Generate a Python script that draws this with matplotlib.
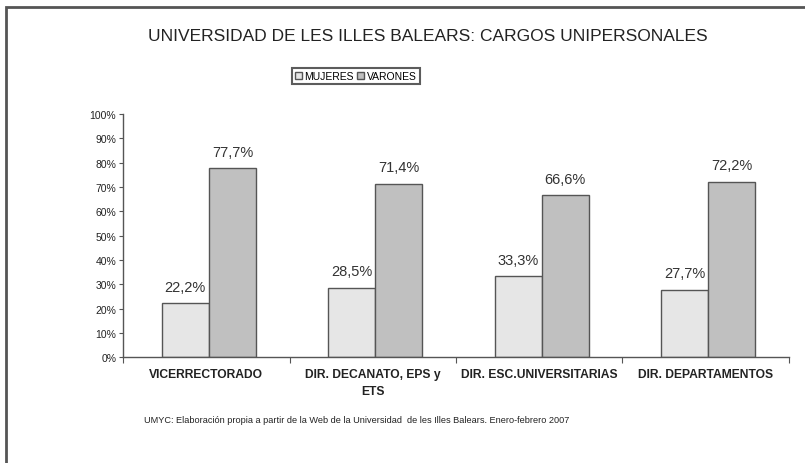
import numpy as np
import matplotlib.pyplot as plt
from matplotlib.patches import Rectangle
from matplotlib.ticker import FuncFormatter

plt.rcParams['font.family'] = ['Liberation Sans', 'DejaVu Sans']

categories = ["VICERRECTORADO", "DIR. DECANATO, EPS y\nETS", "DIR. ESC.UNIVERSITARIAS", "DIR. DEPARTAMENTOS"]
mujeres = [22.2, 28.5, 33.3, 27.7]
varones = [77.7, 71.4, 66.6, 72.2]
mujeres_lbl = ["22,2%", "28,5%", "33,3%", "27,7%"]
varones_lbl = ["77,7%", "71,4%", "66,6%", "72,2%"]

fig = plt.figure(figsize=(8.05, 4.64), dpi=100)
ax = fig.add_axes([0.153, 0.228, 0.827, 0.524])

x = np.arange(len(categories))
w = 0.283
b1 = ax.bar(x - w/2 + 0.015, mujeres, w, color='#e6e6e6', edgecolor='#555555', linewidth=1.0, label='MUJERES')
b2 = ax.bar(x + w/2 + 0.015, varones, w, color='#c0c0c0', edgecolor='#555555', linewidth=1.0, label='VARONES')

for rect, t in zip(b1, mujeres_lbl):
    ax.text(rect.get_x() + rect.get_width()/2, rect.get_height() + 4, t,
            ha='center', va='bottom', fontsize=10.5, color='#333333')
for rect, t in zip(b2, varones_lbl):
    ax.text(rect.get_x() + rect.get_width()/2, rect.get_height() + 4, t,
            ha='center', va='bottom', fontsize=10.5, color='#333333')

ax.set_xlim(-0.5, len(categories) - 0.5)
ax.set_ylim(0, 100)
ax.set_yticks(np.arange(0, 101, 10))
ax.yaxis.set_major_formatter(FuncFormatter(lambda v, p: f"{int(v)}%"))
ax.tick_params(axis='y', labelsize=7.5, length=3, color='#555555', labelcolor='#222222', pad=2)

ax.set_xticks(np.arange(-0.5, len(categories), 1.0))
ax.set_xticklabels([])
ax.set_xticks(x, minor=True)
ax.set_xticklabels(categories, minor=True, fontsize=8.7, fontweight='bold', color='#222222', linespacing=1.5)
ax.tick_params(axis='x', which='major', length=4, color='#555555')
ax.tick_params(axis='x', which='minor', length=0, pad=8)

for s in ['top', 'right']:
    ax.spines[s].set_visible(False)
for s in ['left', 'bottom']:
    ax.spines[s].set_color('#555555')
    ax.spines[s].set_linewidth(1.0)

fig.text(0.532, 0.922, "UNIVERSIDAD DE LES ILLES BALEARS: CARGOS UNIPERSONALES",
         ha='center', va='center', fontsize=12.5, color='#222222')

leg = fig.legend(handles=[b1, b2], loc='center', bbox_to_anchor=(0.442, 0.834), ncol=2,
                 fontsize=7.5, frameon=True, fancybox=False, edgecolor='#333333',
                 handlelength=0.7, handleheight=0.7, handletextpad=0.2, columnspacing=0.3,
                 borderpad=0.3)
leg.get_frame().set_linewidth(1.5)

fig.text(0.443, 0.094, "UMYC: Elaboración propia a partir de la Web de la Universidad  de les Illes Balears. Enero-febrero 2007",
         ha='center', va='center', fontsize=6.6, color='#222222')

fig.patches.append(Rectangle((6/805, -0.1), 1.2, 1 - 8/464 + 0.1, transform=fig.transFigure,
                             fill=False, edgecolor='#555555', linewidth=2))

fig.savefig('out.png', dpi=100)
